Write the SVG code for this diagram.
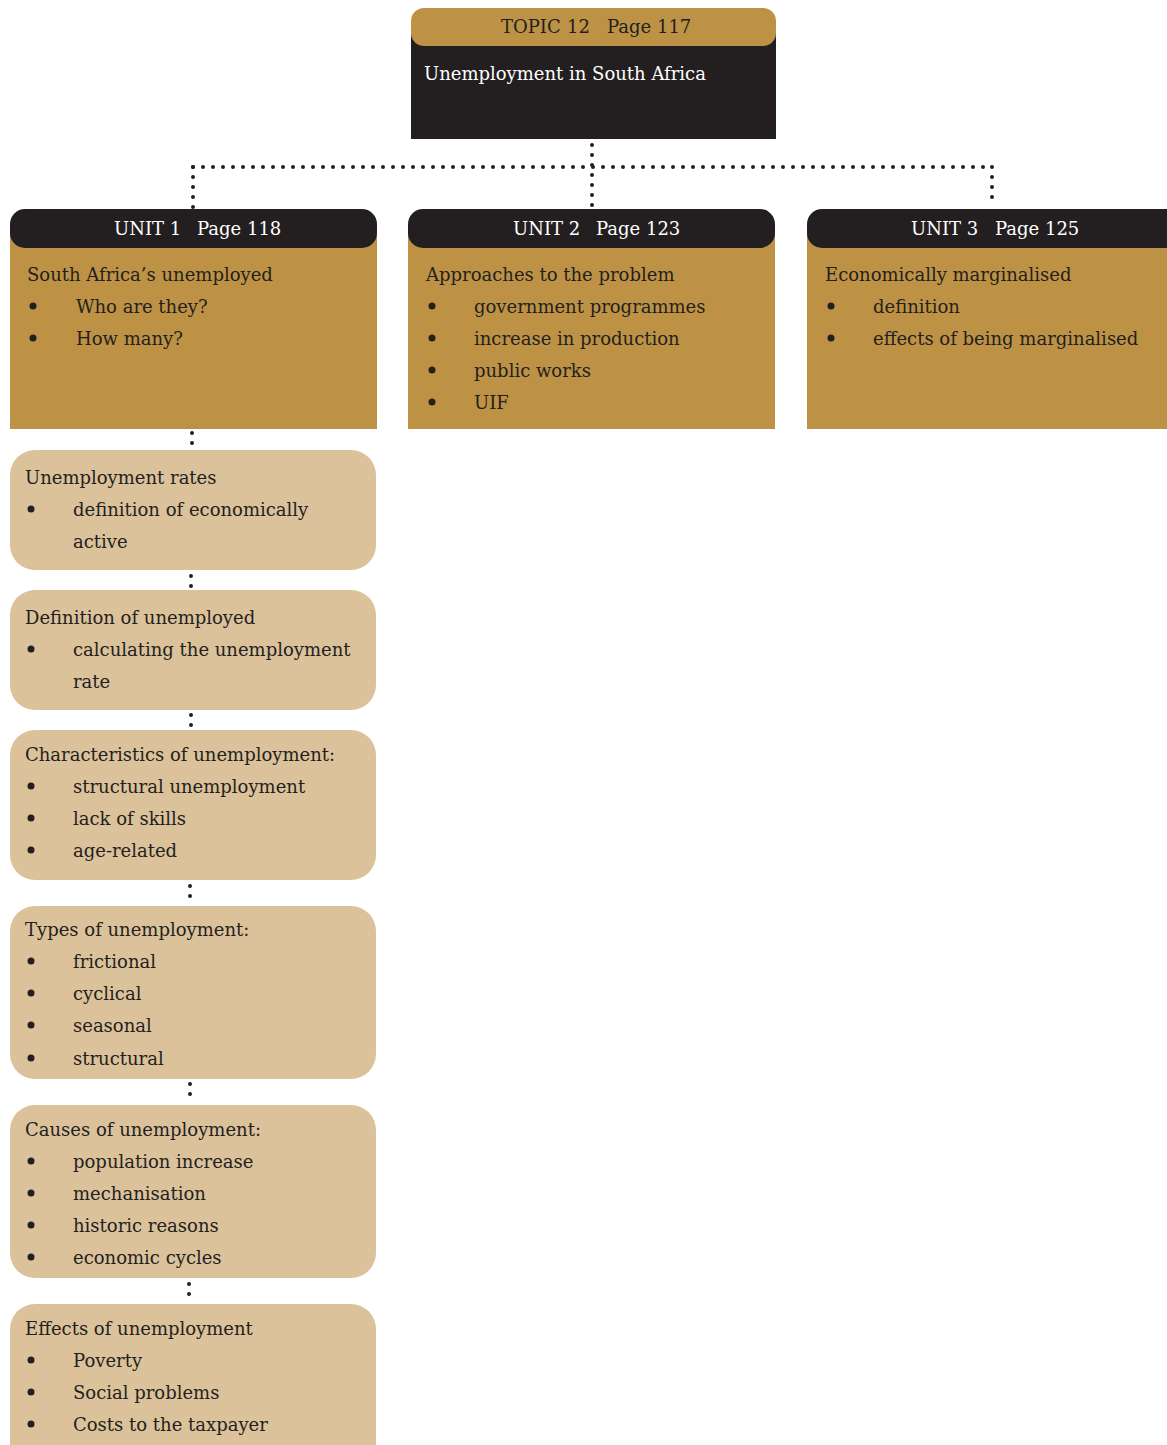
<svg xmlns="http://www.w3.org/2000/svg" width="1167" height="1445" viewBox="0 0 1167 1445">
<style>
text{font-family:"DejaVu Serif","Liberation Serif",serif;font-size:18px;fill:#231F20}
.wt{fill:#fff}
.gold{fill:#BE9245}
.dark{fill:#231F20}
.light{fill:#DBC29A}
.dots{stroke:#231F20;stroke-width:4;stroke-linecap:round;stroke-dasharray:0 10;fill:none}
</style>
<g id="connectors">
<path class="dots" d="M193 167 H992"/>
<path class="dots" d="M592 145 V208"/>
<path class="dots" d="M193 167 V208"/>
<path class="dots" d="M992 167 V206"/>
<path class="dots" d="M192 433 V446"/>
<path class="dots" d="M191 576 V588"/>
<path class="dots" d="M191 715 V728"/>
<path class="dots" d="M190 886 V904"/>
<path class="dots" d="M190 1084 V1102"/>
<path class="dots" d="M189 1284 V1302"/>
</g>
<g id="topic">
<rect class="dark" x="411" y="28" width="365" height="111"/>
<rect class="gold" x="411" y="8" width="365" height="38" rx="13"/>
<text x="501" y="33">TOPIC</text>
<text x="567" y="33">12</text>
<text x="607" y="33">Page 117</text>
<text class="wt" x="424" y="80">Unemployment in South Africa</text>
</g>
<g id="unit1">
<rect class="gold" x="10" y="228" width="367" height="201"/>
<rect class="dark" x="10" y="209" width="367" height="39" rx="15"/>
<text class="wt" x="114" y="235">UNIT 1</text>
<text class="wt" x="197" y="235">Page 118</text>
<text x="27" y="281">South Africa’s unemployed</text>
<circle cx="33" cy="306" r="3.5" class="dark"/><text x="76" y="313">Who are they?</text>
<circle cx="33" cy="338" r="3.5" class="dark"/><text x="76" y="345">How many?</text>
</g>
<g id="unit2">
<rect class="gold" x="408" y="228" width="367" height="201"/>
<rect class="dark" x="408" y="209" width="367" height="39" rx="15"/>
<text class="wt" x="513" y="235">UNIT 2</text>
<text class="wt" x="596" y="235">Page 123</text>
<text x="426" y="281">Approaches to the problem</text>
<circle cx="432" cy="306" r="3.5" class="dark"/><text x="474" y="313">government programmes</text>
<circle cx="432" cy="338" r="3.5" class="dark"/><text x="474" y="345">increase in production</text>
<circle cx="432" cy="370" r="3.5" class="dark"/><text x="474" y="377">public works</text>
<circle cx="432" cy="402" r="3.5" class="dark"/><text x="474" y="409">UIF</text>
</g>
<g id="unit3">
<rect class="gold" x="807" y="228" width="380" height="201"/>
<rect class="dark" x="807" y="209" width="380" height="39" rx="15"/>
<text class="wt" x="911" y="235">UNIT 3</text>
<text class="wt" x="995" y="235">Page 125</text>
<text x="825" y="281">Economically marginalised</text>
<circle cx="831" cy="306" r="3.5" class="dark"/><text x="873" y="313">definition</text>
<circle cx="831" cy="338" r="3.5" class="dark"/><text x="873" y="345">effects of being marginalised</text>
</g>
<g id="rates">
<rect class="light" x="10" y="450" width="366" height="120" rx="25"/>
<text x="25" y="484">Unemployment rates</text>
<circle cx="31" cy="509" r="3.5" class="dark"/><text x="73" y="516">definition of economically</text>
<text x="73" y="548">active</text>
</g>
<g id="definition">
<rect class="light" x="10" y="590" width="366" height="120" rx="25"/>
<text x="25" y="624">Definition of unemployed</text>
<circle cx="31" cy="649" r="3.5" class="dark"/><text x="73" y="656">calculating the unemployment</text>
<text x="73" y="688">rate</text>
</g>
<g id="characteristics">
<rect class="light" x="10" y="730" width="366" height="150" rx="25"/>
<text x="25" y="761">Characteristics of unemployment:</text>
<circle cx="31" cy="786" r="3.5" class="dark"/><text x="73" y="793">structural unemployment</text>
<circle cx="31" cy="818" r="3.5" class="dark"/><text x="73" y="825">lack of skills</text>
<circle cx="31" cy="850" r="3.5" class="dark"/><text x="73" y="857">age-related</text>
</g>
<g id="types">
<rect class="light" x="10" y="906" width="366" height="173" rx="25"/>
<text x="25" y="936">Types of unemployment:</text>
<circle cx="31" cy="961" r="3.5" class="dark"/><text x="73" y="968">frictional</text>
<circle cx="31" cy="993" r="3.5" class="dark"/><text x="73" y="1000">cyclical</text>
<circle cx="31" cy="1025" r="3.5" class="dark"/><text x="73" y="1032">seasonal</text>
<circle cx="31" cy="1058" r="3.5" class="dark"/><text x="73" y="1065">structural</text>
</g>
<g id="causes">
<rect class="light" x="10" y="1105" width="366" height="173" rx="25"/>
<text x="25" y="1136">Causes of unemployment:</text>
<circle cx="31" cy="1161" r="3.5" class="dark"/><text x="73" y="1168">population increase</text>
<circle cx="31" cy="1193" r="3.5" class="dark"/><text x="73" y="1200">mechanisation</text>
<circle cx="31" cy="1225" r="3.5" class="dark"/><text x="73" y="1232">historic reasons</text>
<circle cx="31" cy="1257" r="3.5" class="dark"/><text x="73" y="1264">economic cycles</text>
</g>
<g id="effects">
<rect class="light" x="10" y="1304" width="366" height="170" rx="25"/>
<text x="25" y="1335">Effects of unemployment</text>
<circle cx="31" cy="1360" r="3.5" class="dark"/><text x="73" y="1367">Poverty</text>
<circle cx="31" cy="1392" r="3.5" class="dark"/><text x="73" y="1399">Social problems</text>
<circle cx="31" cy="1424" r="3.5" class="dark"/><text x="73" y="1431">Costs to the taxpayer</text>
</g>
</svg>
